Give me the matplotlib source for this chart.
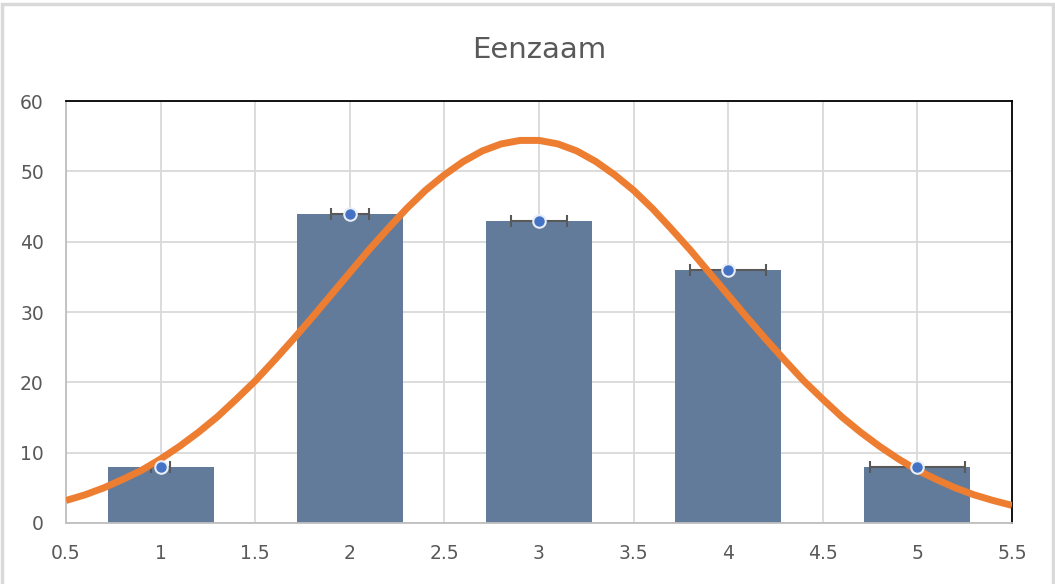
import matplotlib
matplotlib.use("Agg")
import matplotlib.pyplot as plt
from matplotlib.patches import Rectangle

# bar / point data
categories = [1, 2, 3, 4, 5]
counts = [8, 44, 43, 36, 8]
x_err = [0.05, 0.1, 0.15, 0.2, 0.25]

# orange curve, every 0.1
curve_x = [round(0.5 + 0.1 * i, 1) for i in range(51)]
curve_y = [3.2, 4.0, 5.0, 6.2, 7.5, 9.1, 10.9, 12.9, 15.1, 17.6,
           20.2, 23.1, 26.1, 29.2, 32.4, 35.6, 38.8, 41.8, 44.7, 47.3,
           49.5, 51.4, 52.9, 53.9, 54.4, 54.4, 53.9, 52.9, 51.4, 49.5,
           47.3, 44.7, 41.8, 38.8, 35.6, 32.4, 29.2, 26.1, 23.1, 20.2,
           17.6, 15.1, 12.9, 10.9, 9.1, 7.5, 6.2, 5.0, 4.0, 3.2, 2.5]

x_ticks = [0.5, 1, 1.5, 2, 2.5, 3, 3.5, 4, 4.5, 5, 5.5]
x_labels = ["0.5", "1", "1.5", "2", "2.5", "3", "3.5", "4", "4.5", "5", "5.5"]
y_ticks = [0, 10, 20, 30, 40, 50, 60]

fig = plt.figure(figsize=(10.55, 5.84), dpi=100)
ax = fig.add_axes([0.0626, 0.1045, 0.8966, 0.7225])

ax.bar(categories, counts, width=0.56, color="#637B9A", zorder=2)
ax.errorbar(categories, counts, xerr=x_err, fmt="none", ecolor="#595959",
            elinewidth=1.5, capsize=4.3, capthick=1.5, zorder=3)
ax.plot(curve_x, curve_y, color="#ED7D31", lw=5, zorder=4,
        solid_capstyle="butt", solid_joinstyle="round")
ax.plot(categories, counts, "o", color="#4472C4", markersize=9,
        markeredgecolor="#E8EEF8", markeredgewidth=1.5, zorder=5)

ax.set_xlim(0.5, 5.5)
ax.set_ylim(0, 60)
ax.set_xticks(x_ticks)
ax.set_xticklabels(x_labels)
ax.set_yticks(y_ticks)
ax.grid(True, color="#D9D9D9", lw=1.3, zorder=0)
ax.set_axisbelow(True)
ax.tick_params(length=0, labelsize=13.5, labelcolor="#595959")
ax.tick_params(axis="x", pad=15)
ax.tick_params(axis="y", pad=16)

ax.spines["top"].set_color("black")
ax.spines["right"].set_color("black")
ax.spines["left"].set_color("#BFBFBF")
ax.spines["bottom"].set_color("#BFBFBF")
for s in ax.spines.values():
    s.set_linewidth(1.3)

ax.set_title("Eenzaam", fontsize=21, color="#595959", pad=31)

# light frame round the whole chart
fig.patches.append(Rectangle((0.002, -0.01), 0.996, 1.004,
                             transform=fig.transFigure, fill=False,
                             edgecolor="#D9D9D9", lw=2.5))

fig.savefig("out.png", dpi=100)
